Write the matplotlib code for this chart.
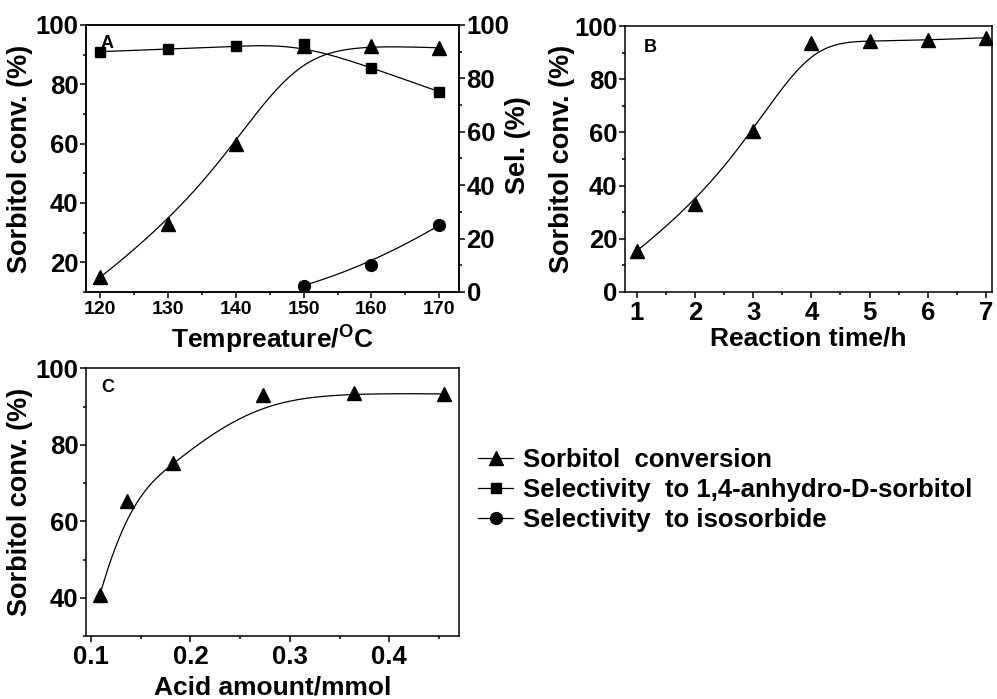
import numpy as np
import matplotlib
matplotlib.use('Agg')
from matplotlib import pyplot as plt
from matplotlib.lines import Line2D
from matplotlib.ticker import MultipleLocator

plt.rcParams['font.family'] = ['Liberation Sans', 'DejaVu Sans']
plt.rcParams['font.weight'] = 'bold'
plt.rcParams['axes.labelweight'] = 'bold'
plt.rcParams['mathtext.fontset'] = 'custom'
plt.rcParams['mathtext.bf'] = 'Liberation Sans:bold'
plt.rcParams['mathtext.rm'] = 'Liberation Sans:bold'

# Panel A: temperature series
temp = [120, 130, 140, 150, 160, 170]
temp_conv = [15, 33, 60, 93, 93, 92.3]
temp_sel_anh = [90, 91, 92, 93, 84, 75]
temp_iso_x = [150, 160, 170]
temp_sel_iso = [2.4, 10, 25]

# Panel B: reaction time
time_h = [1, 2, 3, 4, 5, 6, 7]
time_conv = [15.4, 33, 60.4, 93.7, 94.4, 94.7, 95.6]

# Panel C: acid amount
acid = [0.109, 0.136, 0.182, 0.273, 0.364, 0.455]
acid_conv = [40.8, 65.3, 75.2, 92.9, 93.5, 93.3]


def bspline(xs, ys, n=300):
    # clamped B-spline curve using the points as control points (Origin style)
    pts = np.column_stack([xs, ys]).astype(float)
    m = len(pts)
    k = min(3, m - 1)
    inner = np.linspace(0, 1, m - k + 1)
    knots = np.concatenate([np.zeros(k), inner, np.ones(k)])
    t = np.linspace(0, 1, n)
    t[-1] = 1 - 1e-12
    N = np.zeros((n, len(knots) - 1))
    for i in range(len(knots) - 1):
        N[:, i] = (t >= knots[i]) & (t < knots[i + 1])
    for d in range(1, k + 1):
        newN = np.zeros((n, len(knots) - 1 - d))
        for i in range(len(knots) - 1 - d):
            a = knots[i + d] - knots[i]
            b = knots[i + d + 1] - knots[i + 1]
            left = (t - knots[i]) / a * N[:, i] if a > 0 else 0
            right = (knots[i + d + 1] - t) / b * N[:, i + 1] if b > 0 else 0
            newN[:, i] = left + right
        N = newN
    c = N @ pts
    return c[:, 0], c[:, 1]


def style(ax, xsize):
    for s in ax.spines.values():
        s.set_linewidth(1.1)
    ax.tick_params(which='both', direction='out', width=1.1, top=False, right=False)
    ax.tick_params(which='major', length=4.5)
    ax.tick_params(which='minor', length=2.5)
    ax.tick_params(axis='y', labelsize=18.5, pad=1)
    ax.tick_params(axis='x', labelsize=xsize, pad=2)


fig = plt.figure(figsize=(9.97, 6.99), dpi=100)
axA = fig.add_axes([0.0863, 0.5823, 0.374, 0.382])
axB = fig.add_axes([0.6269, 0.5823, 0.368, 0.3805])
axC = fig.add_axes([0.0863, 0.0901, 0.374, 0.383])

lw = 0.9
tri = dict(marker='^', ms=9.5, color='black', linestyle='none')

# ---- A ----
axA.plot(*bspline(temp, temp_conv), color='black', lw=lw)
axA.plot(temp, temp_conv, **tri)
axA.set_xlim(117.9, 172.9)
axA.set_ylim(10, 100)
axA.xaxis.set_major_locator(MultipleLocator(10))
axA.xaxis.set_minor_locator(MultipleLocator(5))
axA.yaxis.set_major_locator(MultipleLocator(20))
axA.yaxis.set_minor_locator(MultipleLocator(10))
style(axA, 14)
axA.set_ylabel('Sorbitol conv. (%)', fontsize=19.5, labelpad=2)
axA.set_xlabel(r'Tempreature/$^{\mathbf{O}}$C', fontsize=19, labelpad=3)
axA.text(0.04, 0.93, 'A', transform=axA.transAxes, fontsize=13,
         ha='left', va='center', zorder=0)

axA2 = axA.twinx()
axA2.plot(*bspline(temp, temp_sel_anh), color='black', lw=lw)
axA2.plot(temp, temp_sel_anh, marker='s', ms=7.5, color='black', linestyle='none')
axA2.plot(*bspline(temp_iso_x, temp_sel_iso), color='black', lw=lw)
axA2.plot(temp_iso_x, temp_sel_iso, marker='o', ms=8.5, color='black', linestyle='none')
axA2.set_ylim(0, 100)
axA2.yaxis.set_major_locator(MultipleLocator(20))
axA2.yaxis.set_minor_locator(MultipleLocator(10))
for s in axA2.spines.values():
    s.set_linewidth(1.1)
axA2.tick_params(which='both', direction='out', width=1.1)
axA2.tick_params(which='major', length=4.5)
axA2.tick_params(which='minor', length=2.5)
axA2.tick_params(axis='y', labelsize=18.5, pad=1)
axA2.set_ylabel('Sel. (%)', fontsize=19.5)
axA2.yaxis.set_label_coords(1.123, 0.55)

# ---- B ----
axB.plot(*bspline(time_h, time_conv), color='black', lw=lw)
axB.plot(time_h, time_conv, **tri)
axB.set_xlim(0.8, 7.1)
axB.set_ylim(0, 100)
axB.xaxis.set_major_locator(MultipleLocator(1))
axB.xaxis.set_minor_locator(MultipleLocator(0.5))
axB.yaxis.set_major_locator(MultipleLocator(20))
axB.yaxis.set_minor_locator(MultipleLocator(10))
style(axB, 18.5)
axB.set_ylabel('Sorbitol conv. (%)', fontsize=19.5, labelpad=0)
axB.set_xlabel('Reaction time/h', fontsize=19, labelpad=1)
axB.text(0.05, 0.92, 'B', transform=axB.transAxes, fontsize=13,
         ha='left', va='center')

# ---- C ----
axC.plot(*bspline(acid, acid_conv), color='black', lw=lw)
axC.plot(acid, acid_conv, **tri)
axC.set_xlim(0.095, 0.47)
axC.set_ylim(30, 100)
axC.xaxis.set_major_locator(MultipleLocator(0.1))
axC.xaxis.set_minor_locator(MultipleLocator(0.05))
axC.yaxis.set_minor_locator(MultipleLocator(10))
axC.set_yticks([40, 60, 80, 100])
style(axC, 18.5)
axC.set_ylabel('Sorbitol conv. (%)', fontsize=19.5, labelpad=2)
axC.set_xlabel('Acid amount/mmol', fontsize=19, labelpad=5)
axC.text(0.04, 0.93, 'C', transform=axC.transAxes, fontsize=13,
         ha='left', va='center')

# ---- legend ----
handles = [
    Line2D([], [], color='black', lw=lw, marker='^', ms=10),
    Line2D([], [], color='black', lw=lw, marker='s', ms=7.5),
    Line2D([], [], color='black', lw=lw, marker='o', ms=8.5),
]
labels = ['Sorbitol  conversion', 'Selectivity  to 1,4-anhydro-D-sorbitol',
          'Selectivity  to isosorbide']
fig.legend(handles, labels, loc='center left', bbox_to_anchor=(0.4794, 0.299),
           frameon=False, fontsize=18.5, handlelength=1.37, handletextpad=0.39,
           labelspacing=0.25, borderpad=0, borderaxespad=0)

fig.savefig('out.png', dpi=100)
